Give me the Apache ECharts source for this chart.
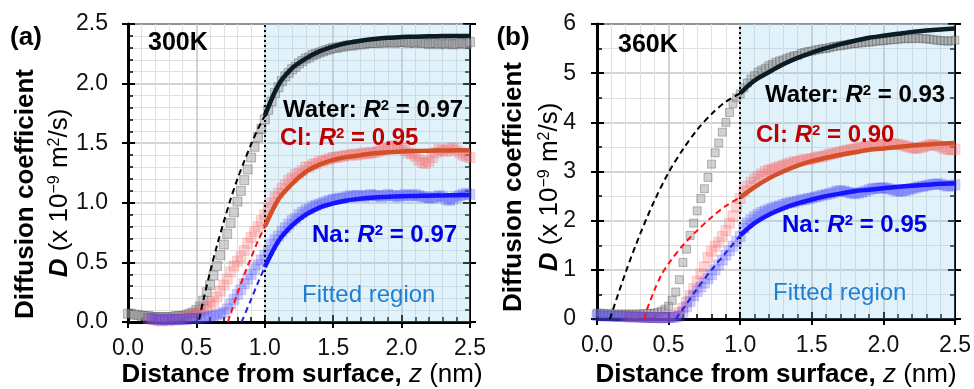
<!DOCTYPE html>
<html><head><meta charset="utf-8">
<script src="https://cdn.jsdelivr.net/npm/echarts@6/dist/echarts.min.js"></script>
<style>html,body{margin:0;padding:0;background:#fff}#c{width:974px;height:389px}</style>
</head><body><div id="c"></div>
<script>
// ---------- sample positions (nm) ----------
const xs = [];
for (let i = 0; i <= 100; i++) xs.push(+(i * 0.025).toFixed(3));

// ---------- tick labels ----------
const xTickLabels = ['0.0', '0.5', '1.0', '1.5', '2.0', '2.5'];
const yTickLabelsA = ['0.0', '0.5', '1.0', '1.5', '2.0', '2.5'];
const yTickLabelsB = ['0', '1', '2', '3', '4', '5', '6'];

// ---------- panel (a) 300K: simulation data ----------
const waterA = [0.07,0.07,0.06,0.06,0.05,0.05,0.05,0.04,0.04,0.04,0.04,0.04,0.04,0.04,0.05,0.05,0.05,0.06,0.07,0.08,
  0.10,0.13,0.18,0.25,0.31,0.39,0.47,0.56,0.65,0.74,0.83,0.92,1.01,1.10,1.19,1.28,1.38,1.47,1.55,1.62,1.70,
  1.78,1.85,1.92,1.97,2.02,2.06,2.09,2.12,2.14,2.17,2.19,2.21,2.22,2.24,2.25,2.26,2.27,2.28,2.29,2.30,
  2.30,2.31,2.31,2.32,2.32,2.32,2.33,2.33,2.33,2.34,2.34,2.34,2.34,2.35,2.34,2.35,2.35,2.34,2.35,2.35,
  2.35,2.34,2.35,2.34,2.35,2.34,2.34,2.33,2.34,2.34,2.33,2.34,2.33,2.34,2.33,2.33,2.34,2.34,2.33,2.35];
const clA = [null,null,null,null,null,null,
  0.03,0.02,0.02,0.01,0.01,0.02,0.01,0.02,0.02,0.03,0.03,0.04,0.05,0.05,0.06,0.08,0.10,0.13,0.15,0.17,0.21,0.26,0.31,0.36,
  0.42,0.47,0.51,0.55,0.60,0.66,0.71,0.76,0.80,0.85,0.90,
  0.95,1.00,1.05,1.08,1.12,1.15,1.19,1.21,1.24,1.25,1.27,1.30,1.30,1.32,1.33,1.35,1.35,1.36,1.37,1.38,
  1.38,1.39,1.39,1.40,1.40,1.41,1.40,1.41,1.42,1.41,1.42,1.42,1.43,1.44,1.45,1.46,1.47,1.48,1.47,1.46,
  1.44,1.42,1.41,1.39,1.36,1.34,1.33,1.35,1.38,1.42,1.45,1.44,1.43,1.45,1.46,1.44,1.42,1.40,1.39,1.38];
const naA = [null,null,null,null,null,null,
  0.03,0.03,0.02,0.02,0.02,0.02,0.02,0.02,0.02,0.02,0.02,0.02,0.03,0.03,0.03,0.03,0.04,0.04,0.05,0.05,0.06,0.07,0.08,0.11,
  0.15,0.19,0.23,0.27,0.32,0.36,0.40,0.44,0.48,0.52,0.56,
  0.60,0.65,0.69,0.72,0.76,0.79,0.82,0.85,0.87,0.90,0.92,0.94,0.95,0.97,0.98,0.99,1.00,1.01,1.02,1.03,
  1.03,1.04,1.04,1.05,1.06,1.05,1.06,1.06,1.05,1.06,1.07,1.06,1.06,1.05,1.06,1.07,1.06,1.06,1.05,1.06,
  1.07,1.06,1.06,1.07,1.06,1.05,1.05,1.04,1.04,1.05,1.06,1.05,1.03,1.02,1.03,1.05,1.06,1.07,1.08,1.07];

// ---------- panel (b) 360K: simulation data ----------
const waterB = [0.12,0.12,0.11,0.11,0.10,0.10,0.10,0.10,0.10,0.10,0.10,0.10,0.10,0.11,0.11,0.11,0.12,
  0.13,0.16,0.20,0.26,0.38,0.55,0.80,1.15,1.42,1.70,1.95,2.20,2.45,2.65,2.88,3.15,3.38,3.58,3.80,4.00,4.20,4.38,4.50,4.58,
  4.70,4.80,4.88,4.95,5.02,5.06,5.10,5.15,5.18,5.22,5.25,5.27,5.30,5.33,5.35,5.36,5.40,5.42,5.44,5.45,
  5.47,5.48,5.50,5.50,5.52,5.54,5.55,5.56,5.57,5.58,5.60,5.60,5.61,5.62,5.63,5.63,5.64,5.65,5.66,5.66,
  5.67,5.68,5.68,5.69,5.70,5.70,5.71,5.70,5.71,5.71,5.70,5.70,5.69,5.68,5.67,5.66,5.66,5.65,5.66,5.67];
const clB = [null,null,null,null,null,null,null,null,
  0.06,0.05,0.05,0.05,0.04,0.04,0.04,0.03,0.03,0.03,0.02,0.03,0.03,0.05,0.08,0.13,0.22,0.34,0.48,0.62,0.77,0.92,
  1.06,1.25,1.38,1.48,1.56,1.68,1.80,1.95,2.10,2.28,2.45,
  2.60,2.70,2.78,2.85,2.90,2.95,3.00,3.03,3.05,3.08,3.10,3.12,3.15,3.17,3.20,3.20,3.22,3.25,3.24,3.26,
  3.28,3.30,3.30,3.33,3.35,3.36,3.38,3.40,3.42,3.43,3.45,3.46,3.48,3.49,3.50,3.52,3.52,3.53,3.54,3.55,
  3.56,3.57,3.56,3.55,3.54,3.52,3.50,3.48,3.47,3.48,3.50,3.52,3.54,3.55,3.53,3.50,3.47,3.45,3.44,3.45];
const naB = [0.07,0.07,0.06,0.06,0.06,0.05,0.05,0.05,0.05,0.04,0.04,0.04,0.04,0.03,0.03,0.03,0.03,0.03,0.03,0.03,0.03,
  0.03,0.04,0.06,0.14,0.25,0.36,0.47,0.56,0.65,0.73,0.82,0.90,1.00,1.10,1.20,1.30,1.39,1.48,1.58,1.68,
  1.85,1.95,2.02,2.08,2.13,2.17,2.20,2.23,2.26,2.28,2.30,2.33,2.35,2.37,2.38,2.40,2.42,2.43,2.45,2.46,
  2.48,2.50,2.52,2.53,2.55,2.57,2.60,2.61,2.60,2.58,2.56,2.55,2.56,2.58,2.60,2.63,2.65,2.66,2.66,2.67,
  2.66,2.64,2.62,2.60,2.60,2.61,2.63,2.65,2.67,2.69,2.70,2.71,2.73,2.74,2.75,2.74,2.72,2.70,2.71,2.73];

// ---------- fits (solid, fitted region) ----------
const fitX = [1.0,1.1,1.2,1.3,1.4,1.5,1.6,1.7,1.8,1.9,2.0,2.1,2.2,2.3,2.4,2.5];
const fitWaterA = [1.73,1.99,2.13,2.21,2.27,2.31,2.34,2.36,2.375,2.385,2.39,2.394,2.397,2.399,2.40,2.40];
const fitClA = [0.80,1.03,1.16,1.26,1.32,1.36,1.385,1.40,1.415,1.425,1.43,1.434,1.437,1.439,1.44,1.44];
const fitNaA = [0.46,0.68,0.81,0.90,0.96,0.995,1.02,1.035,1.045,1.05,1.055,1.058,1.06,1.062,1.064,1.065];
const fitWaterB = [4.59,4.85,5.02,5.18,5.31,5.42,5.51,5.59,5.66,5.72,5.76,5.80,5.84,5.87,5.89,5.91];
const fitClB = [2.47,2.68,2.86,3.00,3.12,3.21,3.28,3.34,3.39,3.44,3.47,3.50,3.53,3.55,3.57,3.58];
const fitNaB = [1.70,1.95,2.12,2.25,2.35,2.43,2.50,2.55,2.60,2.63,2.66,2.69,2.71,2.73,2.75,2.76];

// ---------- fits extrapolated (dashed) ----------
const dashWaterAx = [0.52,0.55,0.6,0.65,0.7,0.75,0.8,0.85,0.9,0.95,1.0];
const dashWaterAy = [0.02,0.18,0.42,0.64,0.84,1.03,1.20,1.35,1.49,1.62,1.73];
const dashClAx = [0.73,0.75,0.8,0.85,0.9,0.95,1.0];
const dashClAy = [0,0.07,0.24,0.40,0.54,0.68,0.80];
const dashNaAx = [0.83,0.9,0.95,1.0];
const dashNaAy = [0,0.19,0.33,0.46];
const dashWaterBx = [0.09,0.2,0.3,0.4,0.5,0.6,0.7,0.8,0.9,1.0];
const dashWaterBy = [0,0.95,1.72,2.4,2.98,3.45,3.85,4.17,4.42,4.59];
const dashClBx = [0.33,0.35,0.4,0.45,0.5,0.6,0.7,0.8,0.9,1.0];
const dashClBy = [0,0.2,0.58,0.9,1.13,1.5,1.8,2.07,2.3,2.47];
const dashNaBx = [0.55,0.6,0.7,0.8,0.9,1.0];
const dashNaBy = [0,0.2,0.62,1.0,1.35,1.7];

// ---------- build ----------
const FONT = 'Liberation Sans, Arial, Helvetica, sans-serif';
const pairs = (xa, ya) => xa.map((x, i) => [x, ya[i]]).filter(p => p[1] !== null && p[1] !== undefined);

const grids = [
  {left:128, top:24, width:342, height:298},
  {left:597, top:24, width:359, height:295}
].map(g => Object.assign(g, {show:true, borderColor:'#000', borderWidth:2, backgroundColor:'transparent', containLabel:false}));

const xAxes = [], yAxes = [];
function addX(g) {
  const main = xAxes.length;
  xAxes.push({type:'value', gridIndex:g, min:0, max:2.5, interval:0.5, position:'bottom',
    axisLine:{show:true, onZero:false, lineStyle:{color:'#000', width:3}},
    axisTick:{show:true, inside:true, length:7, lineStyle:{color:'#000', width:2}},
    minorTick:{show:true, splitNumber:5, length:5, lineStyle:{color:'#000', width:1.5}},
    axisLabel:{show:true, margin:15, fontSize:23, color:'#111', fontFamily:FONT,
      formatter: v => xTickLabels[Math.round(v / 0.5)]},
    splitLine:{show:true, lineStyle:{color:'#c4c4c4', width:1.5}},
    minorSplitLine:{show:true, lineStyle:{color:'#e0e0e0', width:1}}});
  xAxes.push({type:'value', gridIndex:g, min:0, max:2.5, interval:0.5, position:'bottom',
    axisLine:{show:false, onZero:false}, axisTick:{show:true, inside:false, length:6, lineStyle:{color:'#000', width:2}},
    axisLabel:{show:false}, splitLine:{show:false}});
  return main;
}
function addY(g, max, interval, minorSplit, labels, margin) {
  const main = yAxes.length;
  const base = {type:'value', gridIndex:g, min:0, max:max, interval:interval};
  yAxes.push(Object.assign({}, base, {position:'left',
    axisLine:{show:true, onZero:false, lineStyle:{color:'#000', width:3}},
    axisTick:{show:true, inside:true, length:7, lineStyle:{color:'#000', width:2}},
    minorTick:{show:true, splitNumber:minorSplit, length:5, lineStyle:{color:'#000', width:1.5}},
    axisLabel:{show:true, margin:margin, fontSize:23, color:'#111', fontFamily:FONT,
      formatter: v => labels[Math.round(v / interval)]},
    splitLine:{show:true, lineStyle:{color:'#c4c4c4', width:1.5}},
    minorSplitLine:{show:true, lineStyle:{color:'#e0e0e0', width:1}}}));
  yAxes.push(Object.assign({}, base, {position:'left',
    axisLine:{show:false, onZero:false}, axisTick:{show:true, inside:false, length:6, lineStyle:{color:'#000', width:2}},
    axisLabel:{show:false}, splitLine:{show:false}}));
  yAxes.push(Object.assign({}, base, {position:'right',
    axisLine:{show:true, onZero:false, lineStyle:{color:'#000', width:2}},
    axisTick:{show:true, inside:true, length:7, lineStyle:{color:'#000', width:2}},
    minorTick:{show:true, splitNumber:minorSplit, length:5, lineStyle:{color:'#000', width:1.5}},
    axisLabel:{show:false}, splitLine:{show:false}}));
  yAxes.push(Object.assign({}, base, {position:'right',
    axisLine:{show:false, onZero:false}, axisTick:{show:true, inside:false, length:6, lineStyle:{color:'#000', width:2}},
    axisLabel:{show:false}, splitLine:{show:false}}));
  return main;
}

const series = [];
function addPanel(g, water, cl, na, fW, fC, fN, dW, dC, dN, waterSize) {
  const xi = addX(g);
  const yi = g === 0 ? addY(0, 2.5, 0.5, 5, yTickLabelsA, 20) : addY(1, 6, 1, 2, yTickLabelsB, 21);
  const ax = {xAxisIndex:xi, yAxisIndex:yi, silent:true, animation:false};
  series.push(Object.assign({type:'line', data:[[1.0, 0]], symbol:'none', lineStyle:{width:0, opacity:0}, z:1,
    markArea:{silent:true, itemStyle:{color:'rgba(150,210,240,0.28)'}, data:[[{xAxis:1.0},{xAxis:2.5}]]},
    markLine:{silent:true, symbol:'none', label:{show:false},
      lineStyle:{type:[2,3], color:'#000', width:2}, data:[{xAxis:1.0}]}}, ax));
  series.push(Object.assign({type:'scatter', symbol:'rect', symbolSize:waterSize, data:pairs(xs, water), z:2,
    itemStyle:{color:'rgba(150,150,150,0.55)', borderColor:'rgba(70,70,70,0.55)', borderWidth:0.8}}, ax));
  series.push(Object.assign({type:'scatter', symbol:'rect', symbolSize:10, data:pairs(xs, cl), z:3,
    itemStyle:{color:'rgba(250,100,100,0.32)', borderColor:'rgba(240,80,80,0.32)', borderWidth:0.8}}, ax));
  series.push(Object.assign({type:'scatter', symbol:'rect', symbolSize:10, data:pairs(xs, na), z:4,
    itemStyle:{color:'rgba(70,70,255,0.3)', borderColor:'rgba(60,60,240,0.3)', borderWidth:0.8}}, ax));
  const dashed = [[dW, '#000000'], [dC, '#ff1010'], [dN, '#2020e0']];
  dashed.forEach(d => series.push(Object.assign({type:'line', data:pairs(d[0][0], d[0][1]), symbol:'none', smooth:0.3, z:5,
    lineStyle:{color:d[1], width:2, type:[6,4]}}, ax)));
  const solid = [[fW, '#0b1c24'], [fC, '#d24f28'], [fN, '#1414ff']];
  solid.forEach(s => series.push(Object.assign({type:'line', data:pairs(fitX, s[0]), symbol:'none', smooth:0.3, z:6,
    lineStyle:{color:s[1], width:4.5}}, ax)));
}
addPanel(0, waterA, clA, naA, fitWaterA, fitClA, fitNaA,
  [dashWaterAx, dashWaterAy], [dashClAx, dashClAy], [dashNaAx, dashNaAy], 9);
addPanel(1, waterB, clB, naB, fitWaterB, fitClB, fitNaB,
  [dashWaterBx, dashWaterBy], [dashClBx, dashClBy], [dashNaBx, dashNaBy], 8);

// ---------- text ----------
function rt(size, extra) { return Object.assign({fontSize:size, fontFamily:FONT}, extra || {}); }
function richSet(size, color) {
  return {
    b: rt(size, {fontWeight:'bold', fill:color}),
    bi: rt(size, {fontWeight:'bold', fontStyle:'italic', fill:color}),
    i: rt(size, {fontStyle:'italic', fill:color}),
    r: rt(size, {fill:color}),
    sup: rt(Math.round(size * 0.62), {fontWeight:'bold', fill:color, verticalAlign:'top'}),
    supr: rt(Math.round(size * 0.62), {fill:color, verticalAlign:'top'})
  };
}
function T(x, y, text, size, color, align, rot) {
  return {type:'text', x:x, y:y, rotation:rot || 0, z:100, silent:true,
    style:{text:text, rich:richSet(size, color), align:align || 'left', verticalAlign:'middle',
      textAlign:align || 'left', textVerticalAlign:'middle', fill:color, fontSize:size, fontFamily:FONT}};
}
const RED = '#c00000', BLUE = '#0000e6', FIT = '#1f7fd0';
const graphic = [
  T(26, 38, '{b|(a)}', 26, '#000', 'center'),
  T(513, 38, '{b|(b)}', 26, '#000', 'center'),
  T(148, 43.5, '{b|300K}', 25, '#000'),
  T(618, 45.5, '{b|360K}', 25, '#000'),
  T(283, 110, '{b|Water: }{bi|R}{sup|2}{b| = 0.97}', 24, '#000'),
  T(280, 138, '{b|Cl: }{bi|R}{sup|2}{b| = 0.95}', 24, RED),
  T(312, 235, '{b|Na: }{bi|R}{sup|2}{b| = 0.97}', 24, BLUE),
  T(302, 295, '{r|Fitted region}', 24, FIT),
  T(765, 95, '{b|Water: }{bi|R}{sup|2}{b| = 0.93}', 24, '#000'),
  T(756, 135, '{b|Cl: }{bi|R}{sup|2}{b| = 0.90}', 24, RED),
  T(782, 225, '{b|Na: }{bi|R}{sup|2}{b| = 0.95}', 24, BLUE),
  T(773, 293, '{r|Fitted region}', 24, FIT),
  T(302, 375, '{b|Distance from surface, }{i|z}{r| (nm)}', 26, '#000', 'center'),
  T(776, 375, '{b|Distance from surface, }{i|z}{r| (nm)}', 26, '#000', 'center'),
  T(26, 194, '{b|Diffusion coefficient}', 26, '#000', 'center', Math.PI / 2),
  T(60, 193, '{bi|D}{r| (x 10}{supr|\u22129}{r| m}{supr|2}{r|/s)}', 26, '#000', 'center', Math.PI / 2),
  T(514, 187, '{b|Diffusion coefficient}', 26, '#000', 'center', Math.PI / 2),
  T(550, 187, '{bi|D}{r| (x 10}{supr|\u22129}{r| m}{supr|2}{r|/s)}', 26, '#000', 'center', Math.PI / 2)
];

const chart = echarts.init(document.getElementById('c'), null, {renderer:'canvas'});
chart.setOption({animation:false, backgroundColor:'#fff', grid:grids, xAxis:xAxes, yAxis:yAxes, series:series, graphic:graphic});
</script>
</body></html>
